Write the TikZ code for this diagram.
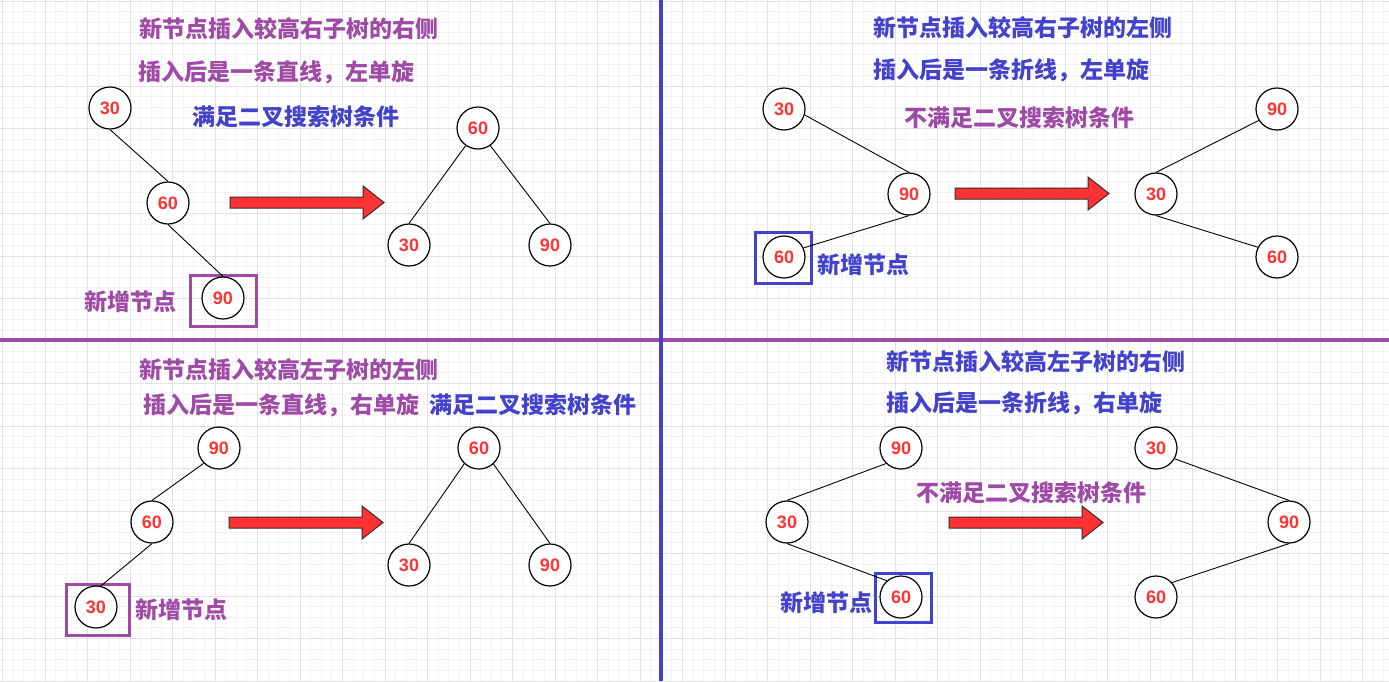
\documentclass[tikz,border=0pt]{standalone}
\usepackage{fontspec}
\newfontfamily\cjk{Noto Sans CJK SC}
\newfontfamily\numfont{Liberation Sans}
\definecolor{purp}{RGB}{158,74,166}
\definecolor{blu}{RGB}{66,66,204}
\definecolor{numred}{RGB}{255,51,51}
\definecolor{arrred}{RGB}{255,51,51}
\definecolor{gmajor}{RGB}{226,226,226}
\definecolor{gminor}{RGB}{243,243,243}
\tikzset{
  bst/.style={circle, draw=black, line width=1.2pt, fill=white, minimum size=42pt, inner sep=0pt,
    text=numred, font=\numfont\bfseries\fontsize{18}{18}\selectfont},
  edge/.style={draw=black, line width=0.9pt},
  lbl/.style={anchor=base west, inner sep=0pt, font=\cjk\bfseries\fontsize{23}{23}\selectfont},
  plbl/.style={lbl, text=purp},
  blbl/.style={lbl, text=blu},
  pbox/.style={draw=purp, line width=3pt, inner sep=0pt, fill=none},
  bbox/.style={draw=blu, line width=3pt, inner sep=0pt, fill=none},
  arrowline/.style={draw={rgb,255:red,60;green,40;blue,40}, line width=1pt, fill=arrred, line join=miter},
  blockarrow/.pic={\draw[arrowline] (0,-5.5) -- (133,-5.5) -- (133,-16.5) -- (154,0) -- (133,16.5) -- (133,5.5) -- (0,5.5) -- cycle;},
  minorgrid/.style={draw=gminor, line width=0.8pt},
  majorgrid/.style={draw=gmajor, line width=1pt}
}
\begin{document}
\begin{tikzpicture}[x=1pt,y=-1pt]
\useasboundingbox (0,0) rectangle (1389,681);
\fill[white] (0,0) rectangle (1389,681);
% grid
\foreach \i in {0,...,131} {\draw[minorgrid] ({2.5+10.625*\i},0) -- ++(0,681);}
\foreach \j in {0,...,64} {\draw[minorgrid] (0,{1+10.625*\j}) -- ++(1389,0);}
\foreach \i in {0,...,32} {\draw[majorgrid] ({2.5+42.5*\i},0) -- ++(0,681);}
\foreach \j in {0,...,16} {\draw[majorgrid] (0,{1+42.5*\j}) -- ++(1389,0);}
% separators
\draw[draw=purp, line width=4.5pt] (0,340) -- (1389,340);
\draw[draw=blu, line width=4pt] (660.5,0) -- (660.5,681);

% ---------- top-left ----------
\node[plbl] (tlA) at (139,37.5) {新节点插入较高右子树的右侧};
\node[plbl] (tlB) at (138,80.5) {插入后是一条直线，左单旋};
\node[blbl] (tlC) at (192,125.5) {满足二叉搜索树条件};
\node[plbl] (tlD) at (84,310.5) {新增节点};
\node[pbox, minimum width=66pt, minimum height=51pt] (tlbox) at (223,300.5) {};
\node[bst] (a30) at (110,108) {30};
\node[bst] (a60) at (168,203) {60};
\node[bst] (a90) at (223,298) {90};
\draw[edge] (a30.south) -- (a60.north);
\draw[edge] (a60.south) -- (a90.north);
\pic at (230,202.5) {blockarrow};
\node[bst] (b60) at (478,128) {60};
\node[bst] (b30) at (409,245) {30};
\node[bst] (b90) at (550,245) {90};
\draw[edge] (b60.235) -- (b30.north);
\draw[edge] (b60.-55) -- (b90.north);

% ---------- top-right ----------
\node[blbl] (trA) at (873,36.5) {新节点插入较高右子树的左侧};
\node[blbl] (trB) at (873,78.5) {插入后是一条折线，左单旋};
\node[plbl] (trC) at (904,126.5) {不满足二叉搜索树条件};
\node[blbl] (trD) at (817,273.5) {新增节点};
\node[bbox, minimum width=56pt, minimum height=51pt] (trbox) at (783,257.5) {};
\node[bst] (c30) at (784,109) {30};
\node[bst] (c90) at (909,194) {90};
\node[bst] (c60) at (784,257) {60};
\draw[edge] (c30.-16) -- (c90.north);
\draw[edge] (c90.south) -- (c60.25);
\pic at (955,193.5) {blockarrow};
\node[bst] (d90) at (1277,109) {90};
\node[bst] (d30) at (1156,194) {30};
\node[bst] (d60) at (1277,257) {60};
\draw[edge] (d90.212) -- (d30.north);
\draw[edge] (d30.south) -- (d60.153);

% ---------- bottom-left ----------
\node[plbl] (blA) at (139,378.5) {新节点插入较高左子树的左侧};
\node[plbl] (blB) at (143,413.5) {插入后是一条直线，右单旋};
\node[blbl] (blC) at (429,413.5) {满足二叉搜索树条件};
\node[plbl] (blD) at (135.5,618.5) {新增节点};
\node[pbox, minimum width=62.5pt, minimum height=51pt] (blbox) at (98,609.5) {};
\node[bst] (e90) at (219,448) {90};
\node[bst] (e60) at (152,522) {60};
\node[bst] (e30) at (96,607) {30};
\draw[edge] (e90.225) -- (e60.north);
\draw[edge] (e60.south) -- (e30.77);
\pic at (229,522.5) {blockarrow};
\node[bst] (f60) at (479,448) {60};
\node[bst] (f30) at (409,565) {30};
\node[bst] (f90) at (550,565) {90};
\draw[edge] (f60.227) -- (f30.north);
\draw[edge] (f60.-48) -- (f90.north);

% ---------- bottom-right ----------
\node[blbl] (brA) at (886,370.5) {新节点插入较高左子树的右侧};
\node[blbl] (brB) at (886,411.5) {插入后是一条折线，右单旋};
\node[plbl] (brC) at (916,501.5) {不满足二叉搜索树条件};
\node[blbl] (brD) at (780,611.5) {新增节点};
\node[bbox, minimum width=56pt, minimum height=49pt] (brbox) at (903,597.5) {};
\node[bst] (g90) at (901,448) {90};
\node[bst] (g30) at (787,522) {30};
\node[bst] (g60) at (901,597) {60};
\draw[edge] (g90.226) -- (g30.north);
\draw[edge] (g30.south) -- (g60.131);
\pic at (949,522.5) {blockarrow};
\node[bst] (h30) at (1156,448) {30};
\node[bst] (h90) at (1289,522) {90};
\node[bst] (h60) at (1156,597) {60};
\draw[edge] (h30.-30) -- (h90.north);
\draw[edge] (h90.south) -- (h60.42);
\end{tikzpicture}
\end{document}
